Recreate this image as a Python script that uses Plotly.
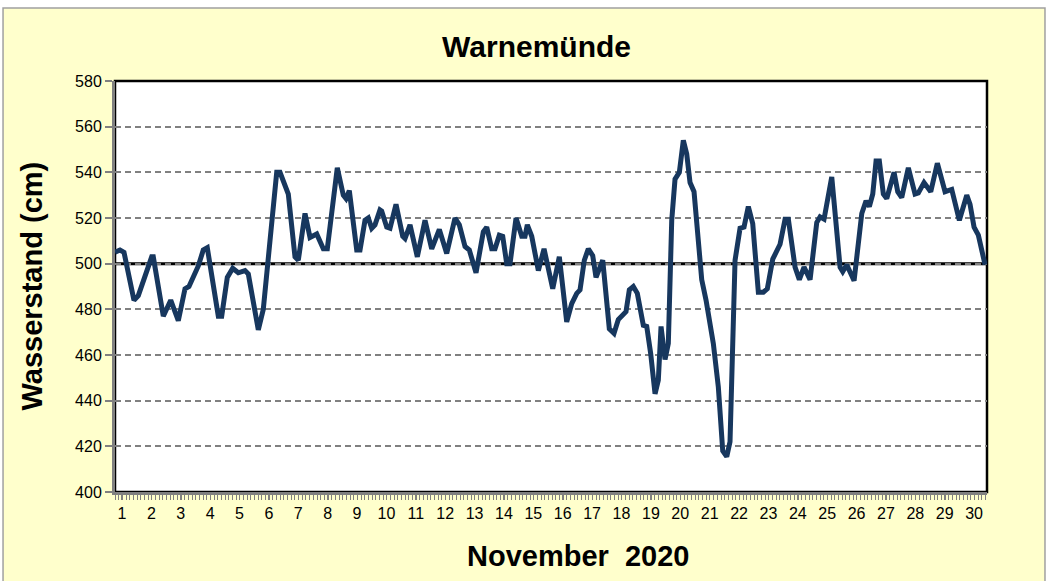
import plotly.graph_objects as go

# ---- data ----
TITLE = "Warnemünde"
Y_TITLE = "Wasserstand (cm)"
X_TITLE = "November\u00a0\u00a02020"
MEAN_LEVEL = 500

DAY_LABELS = [str(d) for d in range(1, 31)]
DAY_TICKS = list(range(1, 31))

TIME_DAYS = [
    0.762, 0.932, 1.068, 1.408, 1.555, 2.011, 2.065, 2.406, 2.658, 2.916,
    3.144, 3.280, 3.597, 3.767, 3.903, 4.278, 4.393, 4.584, 4.768, 4.958,
    5.187, 5.299, 5.639, 5.809, 6.037, 6.266, 6.378, 6.548, 6.660, 6.888,
    7.001, 7.229, 7.399, 7.627, 7.852, 7.988, 8.328, 8.532, 8.624, 8.737,
    8.989, 9.101, 9.271, 9.383, 9.499, 9.611, 9.781, 9.839, 10.010, 10.122,
    10.326, 10.554, 10.633, 10.803, 11.051, 11.313, 11.541, 11.800, 12.052, 12.334,
    12.481, 12.675, 12.821, 13.049, 13.298, 13.413, 13.584, 13.696, 13.842, 13.958,
    14.094, 14.206, 14.411, 14.605, 14.717, 14.795, 14.945, 15.170, 15.364, 15.660,
    15.884, 16.136, 16.306, 16.477, 16.589, 16.735, 16.871, 17.021, 17.133, 17.362,
    17.586, 17.746, 17.892, 18.154, 18.267, 18.403, 18.539, 18.743, 18.859, 18.995,
    19.142, 19.254, 19.346, 19.482, 19.594, 19.710, 19.822, 19.969, 20.105, 20.220,
    20.333, 20.469, 20.731, 20.878, 21.126, 21.296, 21.446, 21.582, 21.694, 21.865,
    22.035, 22.171, 22.317, 22.467, 22.658, 22.828, 22.964, 23.148, 23.284, 23.397,
    23.567, 23.679, 23.907, 24.053, 24.213, 24.418, 24.646, 24.758, 24.894, 25.156,
    25.439, 25.531, 25.667, 25.916, 26.178, 26.324, 26.436, 26.552, 26.664, 26.776,
    26.912, 27.028, 27.276, 27.402, 27.538, 27.763, 27.991, 28.103, 28.297, 28.525,
    28.750, 29.012, 29.240, 29.499, 29.751, 29.863, 30.000, 30.146, 30.374,
]

WATER_LEVEL_CM = [
    505, 506, 505, 484, 486, 503, 503, 477, 484, 475,
    489, 490, 499, 506, 507, 477, 477, 494, 498, 496,
    497, 495.5, 471, 480, 510, 540, 540, 533.5, 530.5, 503,
    501.5, 522, 511.5, 513, 506.5, 506.5, 542, 530, 528.5, 532,
    506, 506, 519, 520, 515.5, 517, 523.5, 523, 516, 515.5,
    526, 512, 511, 517, 503, 519, 506.5, 515, 504.5, 520,
    517, 507.5, 506, 496, 514, 516, 506.5, 506.5, 512.5, 512,
    500, 500, 520, 512, 512, 517, 512, 497, 506.5, 489,
    503, 474.5, 482.5, 487, 488.5, 501.5, 506.5, 503.5, 494, 501.5,
    471.5, 469.5, 475.5, 479, 488.5, 490, 487, 473, 472.5, 460.5,
    443, 449, 472.5, 458, 465, 519, 537, 540, 554, 548,
    535.5, 531.5, 493, 484, 465, 446, 418, 415.5, 422, 501.5,
    515.5, 516, 525, 517.5, 487.5, 487.5, 489, 502, 505, 508.5,
    519.5, 519.5, 498.5, 493, 498.5, 493, 518, 520.5, 519.5, 538,
    498.5, 496.5, 499.5, 492.5, 522, 527.5, 525, 530.5, 545, 545,
    530.5, 528.5, 540, 531.5, 529, 542, 530.5, 531, 535.5, 531.5,
    544, 531.5, 532.5, 519, 530, 526, 516, 512.5, 499.5,
]

Y_TICKS = [400, 420, 440, 460, 480, 500, 520, 540, 560, 580]

# ---- styling ----
FONT = "Liberation Sans, Arial, sans-serif"
LINE_COLOR = "#17375E"
PANEL_BG = "#FFFFCC"
AXIS_GRAY = "#808080"

fig = go.Figure()
fig.add_trace(go.Scatter(
    x=TIME_DAYS, y=WATER_LEVEL_CM, mode="lines",
    line=dict(color=LINE_COLOR, width=5),
    hoverinfo="x+y", showlegend=False,
))

shapes = [
    # outer chart panel
    dict(type="rect", xref="paper", yref="paper", x0=-0.1284, x1=1.0665,
         y0=-0.25, y1=1.1776, fillcolor=PANEL_BG,
         line=dict(color="#A0A0A0", width=1.5), layer="below"),
    # plot area
    dict(type="rect", xref="paper", yref="paper", x0=0, x1=1, y0=0, y1=1,
         fillcolor="white", line=dict(color="black", width=2.5), layer="below"),
    # reference line at mean level
    dict(type="line", xref="paper", yref="y", x0=0, x1=1,
         y0=MEAN_LEVEL, y1=MEAN_LEVEL, line=dict(color="black", width=3),
         layer="below"),
]

annotations = [
    dict(text="<b>" + Y_TITLE + "</b>", xref="paper", yref="paper",
         x=-0.0963, y=0.5, textangle=-90, showarrow=False,
         font=dict(family=FONT, size=29, color="black"),
         xanchor="center", yanchor="middle"),
    dict(text="<b>" + X_TITLE + "</b>", xref="paper", yref="paper",
         x=0.531, y=-0.1557, showarrow=False,
         font=dict(family=FONT, size=29, color="black"),
         xanchor="center", yanchor="middle"),
]

fig.update_layout(
    width=1048, height=581,
    margin=dict(l=115, r=61, t=81, b=89),
    paper_bgcolor="white",
    plot_bgcolor="rgba(0,0,0,0)",
    title=dict(text="<b>" + TITLE + "</b>", x=0.512, xref="container",
               y=1 - 46 / 581, yref="container", xanchor="center", yanchor="middle",
               font=dict(family=FONT, size=30, color="black")),
    shapes=shapes,
    annotations=annotations,
    font=dict(family=FONT, size=15, color="black"),
)

fig.update_xaxes(
    range=[0.762, 30.44], tickmode="array", tickvals=DAY_TICKS, ticktext=DAY_LABELS,
    showgrid=False, zeroline=False,
    showline=True, linecolor=AXIS_GRAY, linewidth=3,
    ticks="outside", ticklen=5, tickcolor=AXIS_GRAY, tickwidth=1,
    minor=dict(dtick=0.125, tick0=0.762, ticks="outside", ticklen=5,
               tickcolor=AXIS_GRAY, tickwidth=1, showgrid=False),
    tickfont=dict(family=FONT, size=16, color="black"),
)
fig.update_yaxes(
    range=[400, 580], tickmode="array", tickvals=Y_TICKS,
    showgrid=True, gridcolor=AXIS_GRAY, gridwidth=1.5, griddash="6px,4px",
    zeroline=False,
    showline=True, linecolor=AXIS_GRAY, linewidth=3,
    ticks="outside", ticklen=7, tickcolor=AXIS_GRAY, tickwidth=2,
    tickfont=dict(family=FONT, size=16, color="black"),
)

fig.write_html("out.html", config={"displayModeBar": False},
               post_script="document.body.style.margin='0';")
